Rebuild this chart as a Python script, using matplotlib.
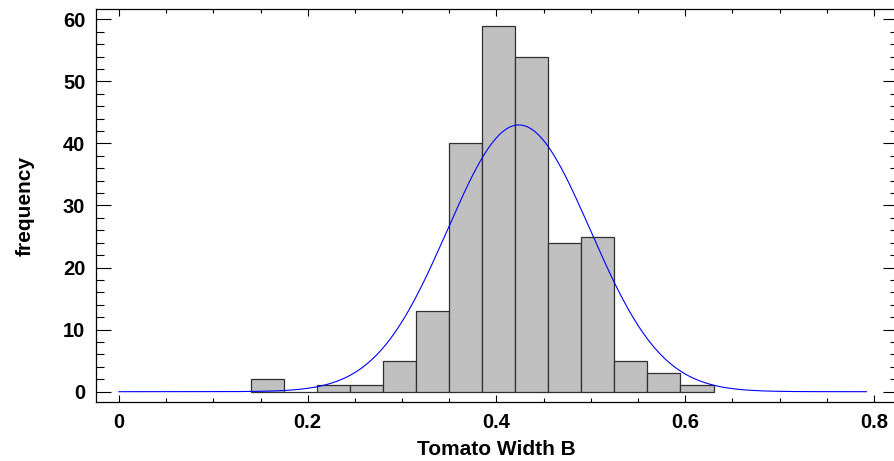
import numpy as np
import matplotlib
matplotlib.use("Agg")
import matplotlib.pyplot as plt
from matplotlib.ticker import MultipleLocator

plt.rcParams['font.family'] = ['Liberation Sans', 'DejaVu Sans']
plt.rcParams['font.weight'] = 'bold'

# Histogram data (class lower limits, width, frequencies)
bin_edges = [0.14, 0.175, 0.21, 0.245, 0.28, 0.315, 0.35, 0.385, 0.42,
             0.455, 0.49, 0.525, 0.56, 0.595, 0.63]
counts = [2, 0, 1, 1, 5, 13, 40, 59, 54, 24, 25, 5, 3, 1]

# Fitted normal distribution
fit_mean = 0.4237
fit_sigma = 0.0757
curve_range = (0.0, 0.792)

x_ticks = [0, 0.2, 0.4, 0.6, 0.8]
x_tick_labels = ['0', '0.2', '0.4', '0.6', '0.8']
y_ticks = [0, 10, 20, 30, 40, 50, 60]

fig = plt.figure(figsize=(8.95, 4.61), dpi=100)
ax = fig.add_axes([95.7 / 895, 1 - 402.3 / 461, 802.3 / 895, 392.8 / 461])

edges = np.array(bin_edges)
widths = np.diff(edges)
ax.bar(edges[:-1], counts, width=widths, align='edge',
       facecolor='#C0C0C0', edgecolor='#303030', linewidth=0.9, zorder=2)

n_total = sum(counts)
bw = widths.mean()
xs = np.linspace(curve_range[0], curve_range[1], 400)
ys = n_total * bw / (fit_sigma * np.sqrt(2 * np.pi)) * np.exp(-0.5 * ((xs - fit_mean) / fit_sigma) ** 2)
ax.plot(xs, ys, color='#0000FF', linewidth=0.8, zorder=3)

ax.set_xlim(-0.0247, 0.8255)
ax.set_ylim(-1.71, 61.58)

ax.set_xticks(x_ticks)
ax.set_xticklabels(x_tick_labels)
ax.set_yticks(y_ticks)
ax.xaxis.set_minor_locator(MultipleLocator(0.05))
ax.yaxis.set_minor_locator(MultipleLocator(2))

ax.tick_params(axis='x', which='major', direction='in', length=4.8, width=0.8,
               top=True, bottom=True, labelsize=14.5, pad=8, colors='black')
ax.tick_params(axis='x', which='minor', direction='in', length=2.6, width=0.8,
               top=True, bottom=True)
ax.tick_params(axis='y', which='major', direction='in', length=10.8, width=0.8,
               left=True, right=True, labelsize=14.5, pad=7.5, colors='black')
ax.tick_params(axis='y', which='minor', direction='in', length=5.5, width=0.8,
               left=True, right=True)

for lbl in ax.get_xticklabels() + ax.get_yticklabels():
    lbl.set_fontweight('bold')

for sp in ax.spines.values():
    sp.set_linewidth(0.9)
    sp.set_color('black')

ax.set_xlabel('Tomato Width B', fontsize=15, fontweight='bold')
ax.set_ylabel('frequency', fontsize=15, fontweight='bold')
ax.xaxis.set_label_coords(0.5, -0.097)
ax.yaxis.set_label_coords(-0.0757, 0.5)

fig.savefig('out.png', dpi=100)
